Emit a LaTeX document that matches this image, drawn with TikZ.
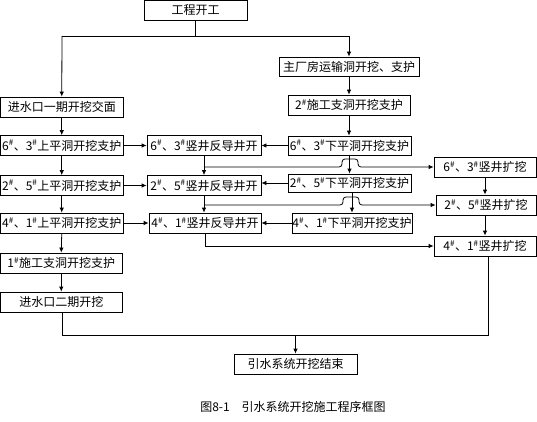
\documentclass[tikz,border=0pt]{standalone}
\usepackage{fontspec}
\setmainfont{Noto Sans CJK SC}
\usetikzlibrary{arrows.meta}
\newcommand{\shp}{\textsuperscript{\#}}
\begin{document}
\begin{tikzpicture}[x=1pt,y=-1pt,
  font=\fontsize{12pt}{14pt}\selectfont,
  box/.style={draw,line width=0.8pt,inner sep=0pt,minimum height=20pt,anchor=center},
  ln/.style={line width=0.8pt},
  arr/.style={line width=0.8pt,-{Latex[length=5pt,width=4.5pt]}}]
\useasboundingbox (0,0) rectangle (537,422);
% top
\node[box,minimum width=103pt,minimum height=19.5pt] (A) at (195.5,10.25) {工程开工};
\node[box,minimum width=140pt,minimum height=19pt] (B) at (349,66.5) {主厂房运输洞开挖、支护};
\node[box,minimum width=122pt] (C) at (349,105) {2\shp 施工支洞开挖支护};
\node[box,minimum width=123pt,minimum height=19pt] (D) at (349.5,145.5) {6\shp 、3\shp 下平洞开挖支护};
\node[box,minimum width=123pt,minimum height=18pt] (E) at (349.5,183) {2\shp 、5\shp 下平洞开挖支护};
\node[box,minimum width=120pt] (F) at (352,223) {4\shp 、1\shp 下平洞开挖支护};
% left column
\node[box,minimum width=122.5pt] (L0) at (61.75,107) {进水口一期开挖交面};
\node[box,minimum width=122.5pt] (L1) at (61.75,145.5) {6\shp 、3\shp 上平洞开挖支护};
\node[box,minimum width=122.5pt] (L2) at (61.75,185.5) {2\shp 、5\shp 上平洞开挖支护};
\node[box,minimum width=122.5pt] (L3) at (61.75,223) {4\shp 、1\shp 上平洞开挖支护};
\node[box,minimum width=121.5pt] (L4) at (61.25,263) {1\shp 施工支洞开挖支护};
\node[box,minimum width=121.5pt] (L5) at (61.25,302) {进水口二期开挖};
% middle column
\node[box,minimum width=114pt] (M1) at (204,145.5) {6\shp 、3\shp 竖井反导井开};
\node[box,minimum width=114pt] (M2) at (204,185.5) {2\shp 、5\shp 竖井反导井开};
\node[box,minimum width=112pt] (M3) at (205,223) {4\shp 、1\shp 竖井反导井开};
% right column
\node[box,minimum width=102pt] (R1) at (485,167) {6\shp 、3\shp 竖井扩挖};
\node[box,minimum width=100pt] (R2) at (486,205) {2\shp 、5\shp 竖井扩挖};
\node[box,minimum width=102pt] (R3) at (485,246) {4\shp 、1\shp 竖井扩挖};
% end
\node[box,minimum width=123pt] (Z) at (295.5,364) {引水系统开挖结束};
\node (cap) at (293,407) {图8-1　引水系统开挖施工程序框图};
% top connectors
\coordinate (TL) at (62,36);
\coordinate (TR) at (349,36);
\draw[ln] (A.south) -- (A.south |- TL);
\draw[ln] (TL) -- (TR);
\draw[arr] (TL) -- (L0.north);
\draw[arr] (TR) -- (B.north);
\draw[arr] (B.south) -- (C.north);
\draw[arr] (C.south) -- (C.south |- D.north);
\draw[arr] (D.south) -- (D.south |- E.north);
\draw[arr] (E.south -| F.north) -- (F.north);
% left column
\draw[arr] (L0.south) -- (L1.north);
\draw[arr] (L1.south) -- (L2.north);
\draw[arr] (L2.south) -- (L3.north);
\draw[arr] (L3.south) -- (L4.north);
\draw[arr] (L4.south) -- (L5.north);
% left to middle
\draw[arr] (L1.east) -- (M1.west);
\draw[arr] (L2.east) -- (M2.west);
\draw[arr] (L3.east) -- (M3.west);
% right to middle
\draw[arr] (D.west) -- (D.west -| M1.east);
\draw[arr] (E.west) -- (E.west -| M2.east);
\draw[arr] (F.west) -- (F.west -| M3.east);
% middle verticals
\draw[arr] (M1.south) -- (M1.south |- M2.north);
\draw[arr] (M2.south) -- (M2.south |- M3.north);
% jumps to right column
\coordinate (J1) at (204,167);
\coordinate (J2) at (204,205);
\coordinate (J3) at (205,246);
\draw[arr,rounded corners=3pt] (J1) -- (342,167) -- (342,159) -- (358,159) -- (358,167) -- (R1.west);
\draw[arr,rounded corners=3pt] (J2) -- (343,205) -- (343,197) -- (359,197) -- (359,205) -- (R2.west);
\draw[ln] (M3.south) -- (J3);
\draw[arr] (J3) -- (J3 -| R3.west);
% right verticals
\draw[arr] (R1.south) -- (R1.south |- R2.north);
\draw[arr] (R2.south -| R3.north) -- (R3.north);
% bottom
\coordinate (B1) at (62,335);
\coordinate (B2) at (488,335);
\draw[ln] (L5.south -| B1) -- (B1) -- (B2) -- (B2 |- R3.south);
\draw[arr] (Z.north |- B1) -- (Z.north);
\end{tikzpicture}
\end{document}
